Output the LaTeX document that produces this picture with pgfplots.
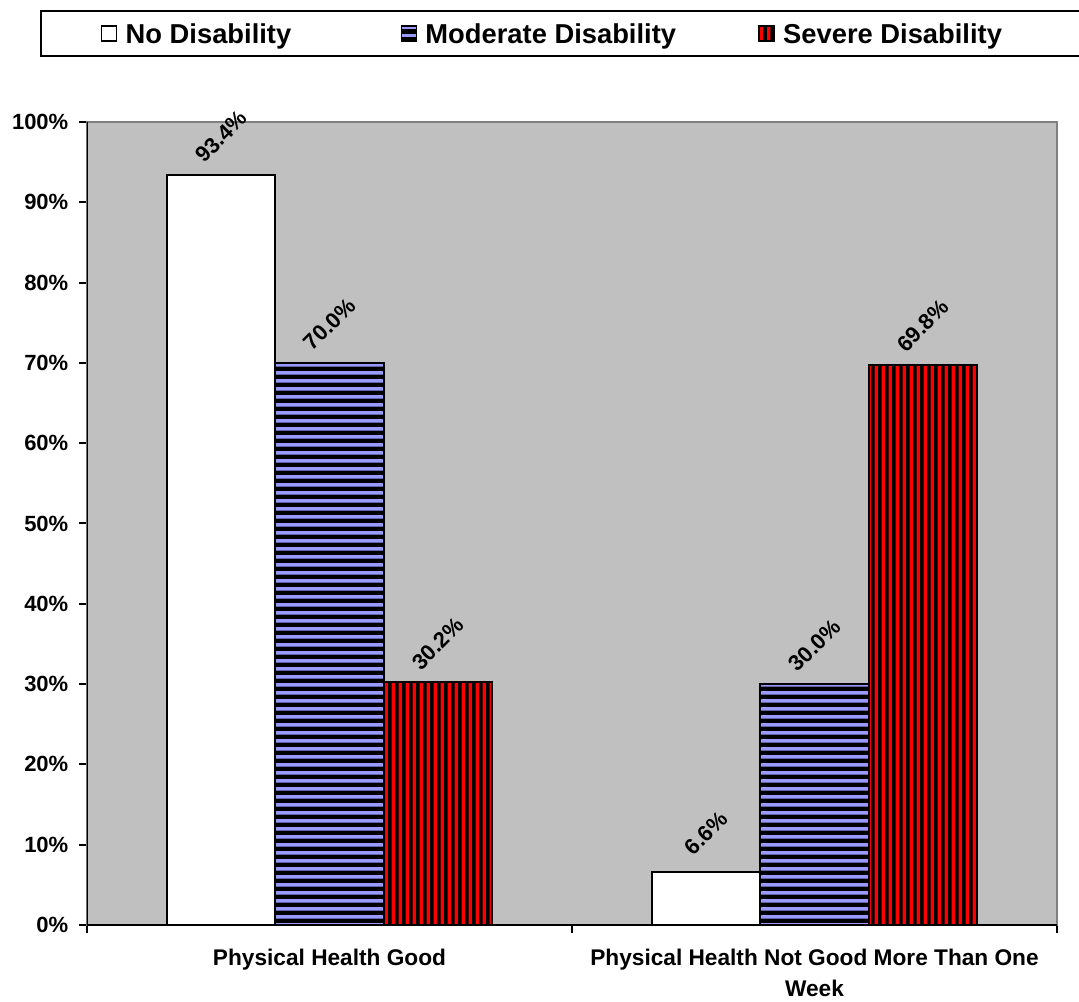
\documentclass[border=0pt]{standalone}
\usepackage{fontspec}
\setmainfont{Liberation Sans}
\usepackage{pgfplots}
\pgfplotsset{compat=1.18}
\usetikzlibrary{patterns}

\definecolor{plotgray}{HTML}{C0C0C0}
\definecolor{bordergray}{HTML}{808080}
\definecolor{modblue}{HTML}{9999FF}
\definecolor{sevred}{HTML}{FF0000}

\pgfdeclarepatternformonly{hstripes}{\pgfpoint{0pt}{0pt}}{\pgfpoint{800pt}{5.85pt}}{\pgfpoint{800pt}{5.85pt}}{%
  \pgfpathrectangle{\pgfpoint{-1pt}{0pt}}{\pgfpoint{802pt}{3.3pt}}\pgfusepath{fill}}
\pgfdeclarepatternformonly{vstripes}{\pgfpoint{0pt}{0pt}}{\pgfpoint{5.4pt}{800pt}}{\pgfpoint{5.4pt}{800pt}}{%
  \pgfpathrectangle{\pgfpoint{0pt}{-1pt}}{\pgfpoint{3pt}{802pt}}\pgfusepath{fill}}

\pgfplotsset{
  nodis/.style={fill=white, draw=black, line width=1.5pt},
  moddis/.style={fill=modblue, draw=black, line width=1.5pt,
    postaction={pattern=hstripes, pattern color=black}},
  sevdis/.style={fill=sevred, draw=black, line width=1.5pt,
    postaction={pattern=vstripes, pattern color=black}},
  sqleg/.style={legend image code/.code={
      \draw[##1, line width=1.1pt] (0pt,-5.625pt) rectangle (11.25pt,5.625pt);
      \path (17.25pt,0pt);}},
}

\begin{document}
\begin{tikzpicture}
\path[use as bounding box] (0,0) rectangle (809.25pt,750.75pt);
\begin{axis}[
  at={(65.25pt,57pt)}, anchor=south west,
  scale only axis, width=727.5pt, height=602.25pt,
  ybar, bar width=0.2233,
  xmin=-0.5, xmax=1.5, ymin=0, ymax=100,
  axis background/.style={fill=plotgray},
  axis line style={draw=bordergray, line width=1.5pt},
  tick pos=left, tick align=outside,
  tick style={draw=black, line width=1.5pt},
  major tick length=6pt,
  ytick={0,10,...,100},
  yticklabel={\pgfmathprintnumber{\tick}\%},
  y tick label style={font=\bfseries\fontsize{16.5}{18}\selectfont, xshift=-4.5pt},
  /pgf/number format/assume math mode=true,
  xtick={-0.5,0.5,1.5},
  xticklabels={,,},
  extra x ticks={0,1},
  extra x tick labels={Physical Health Good, Physical Health Not Good More Than One\\Week},
  extra x tick style={major tick length=0pt,
    x tick label style={font=\bfseries\fontsize{17}{23}\selectfont, align=center, anchor=north, yshift=-14.5pt}},
  every node near coord/.append style={anchor=center, yshift=29pt, rotate=45, font=\bfseries\fontsize{16.5}{18}\selectfont, text=black},
  nodes near coords={\pgfmathprintnumber[fixed,fixed zerofill,precision=1]{\pgfplotspointmeta}\%},
  legend columns=3,
  legend style={at={(-0.04845,1.1395)}, anchor=north west, draw=black, line width=1.5pt, fill=white,
    inner xsep=45pt, inner ysep=9.5pt, cells={anchor=west},
    nodes={inner sep=0pt, text depth=0pt},
    font=\bfseries\fontsize{20.5}{24}\selectfont},
]
\addplot[nodis, sqleg, bar shift=-0.2233] coordinates {(0,93.4) (1,6.6)};
\addlegendentry{\makebox[206.25pt][l]{No Disability}}
\addplot[moddis, sqleg, bar shift=0] coordinates {(0,70.0) (1,30.0)};
\addlegendentry{\makebox[249.75pt][l]{Moderate Disability}}
\addplot[sevdis, sqleg, bar shift=0.2233] coordinates {(0,30.2) (1,69.8)};
\addlegendentry{\makebox[225pt][l]{Severe Disability}}
\draw[black, line width=1.5pt] (rel axis cs:0,1) -- (rel axis cs:0,0) -- (rel axis cs:1,0);
\end{axis}
\end{tikzpicture}
\end{document}
